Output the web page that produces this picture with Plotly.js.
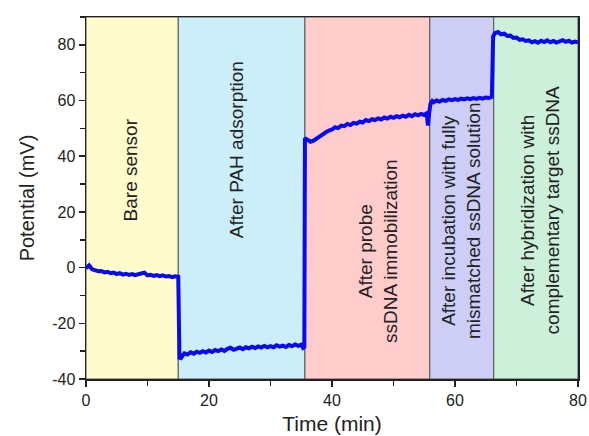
<!DOCTYPE html>
<html>
<head>
<meta charset="utf-8">
<script src="https://cdn.plot.ly/plotly-3.0.1.min.js"></script>
<style>html,body{margin:0;padding:0;background:#fff;}#chart{width:589px;height:436px;}</style>
</head>
<body>
<div id="chart"></div>
<script>
// Measured time (min)
const time = [
  0,0.5,1,1.5,2,2.5,3,3.5,4,4.5,5,5.5,6,6.5,7,7.5,8,8.5,9,9.5,10,10.5,11,11.5,12,12.5,13,13.5,14,14.5,15,
  15.2,15.4,15.6,
  16,16.5,17,17.5,18,18.5,19,19.5,20,20.5,21,21.5,22,22.5,23,23.5,24,24.5,25,25.5,26,26.5,27,27.5,28,28.5,29,29.5,30,30.5,31,31.5,32,32.5,33,33.5,34,34.5,35,35.3,35.5,
  35.6,
  36,36.5,37,37.5,38,38.5,39,39.5,40,40.5,41,41.5,42,42.5,43,43.5,44,44.5,45,45.5,46,46.5,47,47.5,48,48.5,49,49.5,50,50.5,51,51.5,52,52.5,53,53.5,54,54.5,55,55.4,55.6,55.8,
  56,56.3,56.5,57,57.5,58,58.5,59,59.5,60,60.5,61,61.5,62,62.5,63,63.5,64,64.5,65,65.5,66,
  66.2,
  66.5,67,67.5,68,68.5,69,69.5,70,70.5,71,71.5,72,72.5,73,73.5,74,74.5,75,75.5,76,76.5,77,77.5,78,78.5,79,79.5,80
];
// Measured potential (mV)
const potential = [
  -0.2,0.8,-0.6,-1.0,-1.3,-1.2,-1.7,-1.5,-2.0,-1.8,-2.3,-2.0,-2.5,-2.2,-2.6,-2.3,-2.7,-2.4,-2.2,-1.8,-2.8,-2.6,-3.0,-2.7,-3.1,-2.8,-3.2,-3.0,-3.4,-3.1,-3.3,
  -33.0,-31.0,-32.0,
  -30.8,-31.2,-30.4,-30.9,-30.2,-30.6,-30.0,-30.5,-29.8,-30.3,-29.6,-30.0,-29.4,-29.9,-29.2,-28.8,-29.5,-29.0,-28.7,-29.3,-28.6,-29.0,-28.4,-28.9,-28.3,-28.7,-28.1,-28.6,-28.2,-28.6,-27.9,-28.4,-28.0,-28.5,-27.8,-28.2,-27.6,-28.1,-27.7,-28.8,-28.5,
  46.5,
  46.0,45.2,45.6,46.4,47.3,47.9,48.6,49.2,49.6,50.4,50.1,51.0,50.8,51.6,51.2,52.0,51.7,52.4,52.1,53.0,52.6,53.3,53.0,53.6,53.2,53.9,53.5,54.2,53.8,54.4,54.0,54.6,54.2,54.9,54.4,55.1,54.7,55.2,54.8,55.4,51.0,55.5,
  58.8,59.8,59.4,60.0,59.6,60.2,59.9,60.4,60.1,60.5,60.2,60.7,60.4,60.8,60.5,60.9,60.6,61.0,60.7,61.1,60.9,61.3,
  83.0,
  84.2,84.6,83.8,84.0,83.2,83.3,82.5,82.6,81.8,82.0,81.4,81.6,80.9,81.3,80.8,81.5,81.0,81.6,80.9,81.4,80.8,81.3,81.7,81.1,81.5,80.8,81.2,80.9
];
// Axis tick labels
const xTickVals = [0, 20, 40, 60, 80];
const xTickText = ['0', '20', '40', '60', '80'];
const yTickVals = [-40, -20, 0, 20, 40, 60, 80];
const yTickText = ['-40', '-20', '0', '20', '40', '60', '80'];

// Stage boundaries (min) and labels
const stageStart = [0, 15.0, 35.6, 55.9, 66.3];
const stageEnd   = [15.0, 35.6, 55.9, 66.3, 80];
const stageColors = ['#FFFBCC', '#CCEEF8', '#FFCCCC', '#CDCDF5', '#CCF0DA'];
const stageLabels = [
  'Bare sensor',
  'After PAH adsorption',
  'After probe<br>ssDNA immobilization',
  'After incubation with fully<br>mismatched ssDNA solution',
  'After hybridization with<br>complementary target ssDNA'
];
const labelX = [7.2, 24.5, 47.5, 61.1, 73.8];
const labelY = [35, 42.4, 6, 17, 20.5];

const shapes = stageStart.map((s, i) => ({
  type: 'rect', xref: 'x', yref: 'paper', x0: s, x1: stageEnd[i], y0: 0, y1: 1,
  fillcolor: stageColors[i], line: {color: '#555', width: 1}, layer: 'below'
}));

const font = 'Liberation Sans, Arial, sans-serif';
const annotations = stageLabels.map((t, i) => ({
  x: labelX[i], y: labelY[i], xref: 'x', yref: 'y', text: t, showarrow: false,
  textangle: -90, font: {family: font, size: 19, color: '#222'}, align: 'center'
}));

const trace = {
  x: time, y: potential, type: 'scatter', mode: 'lines',
  line: {color: '#0a0af0', width: 4}, hoverinfo: 'skip'
};

const layout = {
  width: 589, height: 436,
  margin: {l: 86, r: 11, t: 17, b: 57},
  paper_bgcolor: '#fff', plot_bgcolor: '#fff',
  showlegend: false,
  shapes: shapes,
  annotations: annotations,
  xaxis: {
    range: [0, 80], tickmode: 'array', tickvals: xTickVals, ticktext: xTickText,
    ticks: 'outside', ticklen: 6, tickwidth: 1.5, tickcolor: '#222',
    minor: {dtick: 10, tick0: 0, ticks: 'outside', ticklen: 5, tickwidth: 1.5, tickcolor: '#222', showgrid: false},
    showline: true, mirror: true, linecolor: '#222', linewidth: 1.5,
    showgrid: false, zeroline: false,
    tickfont: {family: font, size: 16, color: '#222'},
    title: {text: 'Time (min)', font: {family: font, size: 21, color: '#222'}, standoff: 8}
  },
  yaxis: {
    range: [-40, 90], tickmode: 'array', tickvals: yTickVals, ticktext: yTickText,
    ticks: 'outside', ticklen: 6, tickwidth: 1.5, tickcolor: '#222',
    minor: {dtick: 10, tick0: 0, ticks: 'outside', ticklen: 5, tickwidth: 1.5, tickcolor: '#222', showgrid: false},
    showline: true, mirror: true, linecolor: '#222', linewidth: 1.5,
    showgrid: false, zeroline: false,
    tickfont: {family: font, size: 16, color: '#222'},
    title: {text: 'Potential (mV)', font: {family: font, size: 20, color: '#222'}, standoff: 12}
  }
};

Plotly.newPlot('chart', [trace], layout, {displayModeBar: false, staticPlot: true});
</script>
</body>
</html>
